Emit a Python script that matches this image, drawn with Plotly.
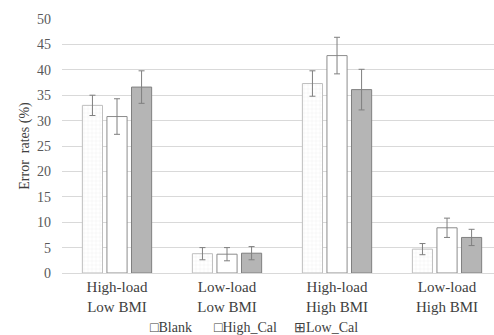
import plotly.graph_objects as go

categories = ["High-load<br>Low BMI", "Low-load<br>Low BMI", "High-load<br>High BMI", "Low-load<br>High BMI"]
series_names = ["Blank", "High_Cal", "Low_Cal"]
legend_marks = ["□", "□", "⊞"]
blank = [33.0, 3.8, 37.3, 4.7]
blank_err = [2.0, 1.2, 2.5, 1.1]
high_cal = [30.8, 3.7, 42.8, 8.9]
high_cal_err = [3.5, 1.3, 3.6, 1.9]
low_cal = [36.6, 3.9, 36.1, 7.0]
low_cal_err = [3.2, 1.3, 4.0, 1.6]
y_ticks = [0, 5, 10, 15, 20, 25, 30, 35, 40, 45, 50]

FONT = "Liberation Serif"
fig = go.Figure()
styles = [
    dict(color="#ffffff", line=dict(color="#bfbfbf", width=1), pattern=dict(shape="+", fgcolor="#e3e3e3", size=4, solidity=0.2)),
    dict(color="#ffffff", line=dict(color="#8c8c8c", width=1)),
    dict(color="#b5b5b5", line=dict(color="#808080", width=1)),
]
for name, vals, errs, st in zip(series_names, [blank, high_cal, low_cal], [blank_err, high_cal_err, low_cal_err], styles):
    fig.add_trace(go.Bar(
        x=list(range(len(categories))), y=vals, name=name,
        marker=st, showlegend=False,
        error_y=dict(type="data", array=errs, visible=True, color="#7f7f7f", thickness=1, width=3),
    ))

legend_x = [0.199, 0.347, 0.532]
for mark, name, lx in zip(legend_marks, series_names, legend_x):
    fig.add_annotation(text=mark + name, x=lx, y=-0.213, xref="paper", yref="paper",
                       xanchor="left", yanchor="middle", showarrow=False,
                       font=dict(family=FONT, size=14, color="#404040"))

fig.update_layout(
    width=494, height=335,
    margin=dict(l=62, r=0, t=19, b=62),
    paper_bgcolor="white", plot_bgcolor="white",
    barmode="group", bargap=0.33, bargroupgap=0.18,
    font=dict(family=FONT, size=13, color="#595959"),
    xaxis=dict(tickvals=list(range(len(categories))), ticktext=categories, range=[-0.5, 3.427],
               showline=True, linecolor="#d9d9d9", ticks="", showgrid=False,
               tickfont=dict(family=FONT, size=15, color="#404040")),
    yaxis=dict(range=[0, 50], tickvals=y_ticks, showgrid=True, gridcolor="#d9d9d9", zeroline=False,
               showline=False, ticks="", ticklabelstandoff=10,
               tickfont=dict(family=FONT, size=14, color="#595959"),
               title=dict(text="Error  rates (%)", font=dict(family=FONT, size=14, color="#404040"), standoff=4)),
)
fig.write_html("out.html")
